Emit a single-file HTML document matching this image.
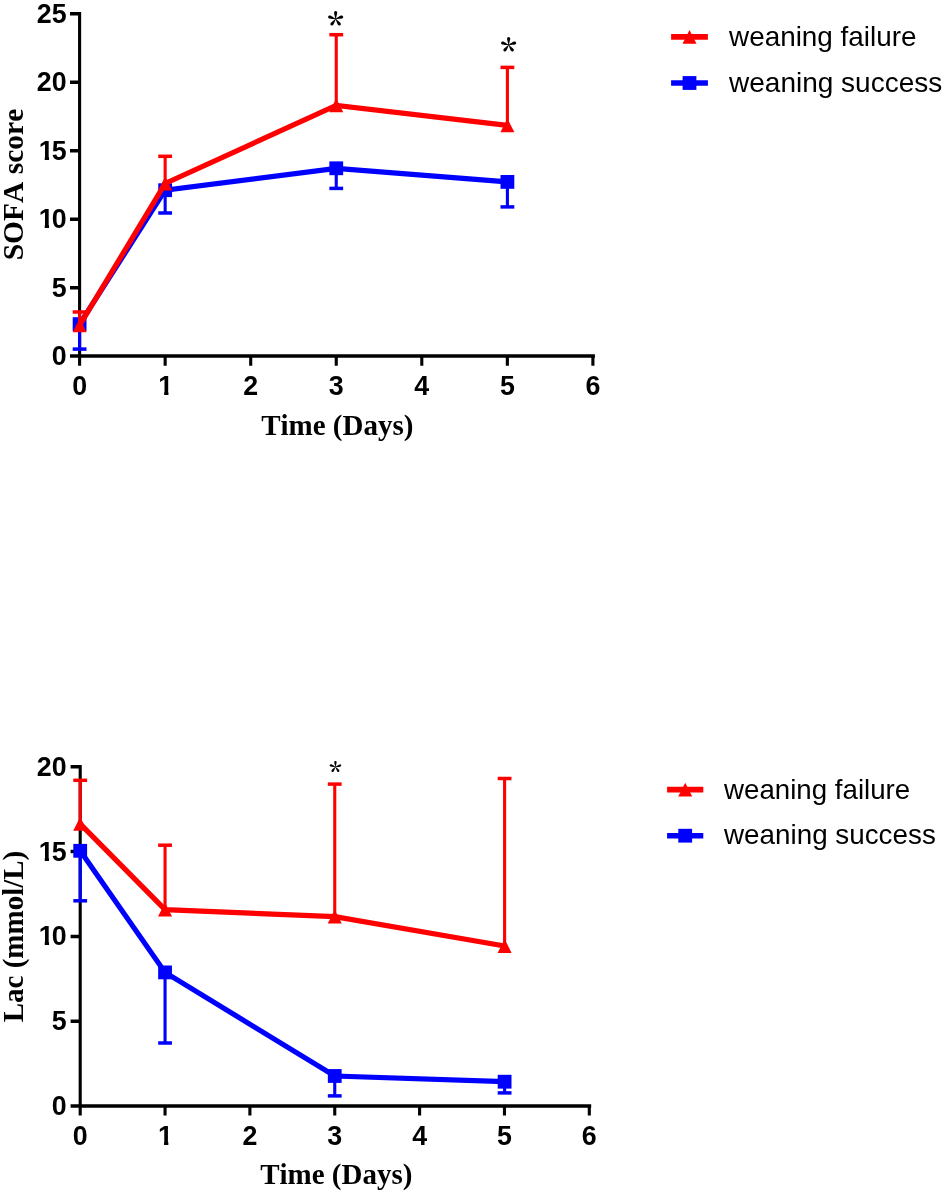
<!DOCTYPE html>
<html><head><meta charset="utf-8"><title>Figure</title>
<style>
html,body{margin:0;padding:0;background:#fff}
svg{display:block}
text{font-kerning:none}
.tk{font-family:"Liberation Sans",Arial,sans-serif;font-weight:bold;font-size:26.8px;fill:#000}
.ti{font-family:"Liberation Serif","Times New Roman",serif;font-weight:bold;font-size:29px;fill:#000}
.st{font-family:"Noto Serif CJK SC","Liberation Serif",serif;font-weight:bold;fill:#000}
.lg{font-family:"Liberation Sans",Arial,sans-serif;fill:#000}
</style></head><body>
<svg width="945" height="1193" viewBox="0 0 945 1193">
<defs><clipPath id="c1" clipPathUnits="userSpaceOnUse"><path d="M-2 -26H18V-3.6H10.25V2H5.95V-3.6H-2Z"/></clipPath></defs>
<rect width="945" height="1193" fill="#fff"/>
<g id="chart-top">
<path d="M70.00 356.10H594.90M70.00 287.65H79.60M70.00 219.20H79.60M70.00 150.75H79.60M70.00 82.30H79.60M70.00 13.85H79.60" stroke="#000" stroke-width="3.5" fill="none"/>
<path d="M79.60 12.10V365.70M165.15 356.10V365.70M250.70 356.10V365.70M336.25 356.10V365.70M421.80 356.10V365.70M507.35 356.10V365.70M592.90 356.10V365.70" stroke="#000" stroke-width="3.1" fill="none"/>
<path d="M79.60 324.10V349.10" stroke="#0000ff" stroke-width="3.1" fill="none"/><path d="M72.70 349.10H86.50" stroke="#0000ff" stroke-width="3.5" fill="none"/>
<path d="M165.15 190.20V213.00" stroke="#0000ff" stroke-width="3.1" fill="none"/><path d="M158.25 213.00H172.05" stroke="#0000ff" stroke-width="3.5" fill="none"/>
<path d="M336.25 168.30V188.40" stroke="#0000ff" stroke-width="3.1" fill="none"/><path d="M329.35 188.40H343.15" stroke="#0000ff" stroke-width="3.5" fill="none"/>
<path d="M507.40 181.90V206.90" stroke="#0000ff" stroke-width="3.1" fill="none"/><path d="M500.50 206.90H514.30" stroke="#0000ff" stroke-width="3.5" fill="none"/>
<polyline points="79.60,324.10 165.15,190.20 336.25,168.30 507.40,181.90" fill="none" stroke="#0000ff" stroke-width="5.2" stroke-linejoin="miter"/>
<rect x="72.70" y="317.20" width="13.8" height="13.8" fill="#0000ff"/>
<rect x="158.25" y="183.30" width="13.8" height="13.8" fill="#0000ff"/>
<rect x="329.35" y="161.40" width="13.8" height="13.8" fill="#0000ff"/>
<rect x="500.50" y="175.00" width="13.8" height="13.8" fill="#0000ff"/>
<path d="M79.60 325.30V312.00" stroke="#ff0000" stroke-width="3.1" fill="none"/><path d="M72.70 312.00H86.50" stroke="#ff0000" stroke-width="3.5" fill="none"/>
<path d="M165.15 183.50V156.30" stroke="#ff0000" stroke-width="3.1" fill="none"/><path d="M158.25 156.30H172.05" stroke="#ff0000" stroke-width="3.5" fill="none"/>
<path d="M336.25 105.40V34.70" stroke="#ff0000" stroke-width="3.1" fill="none"/><path d="M329.35 34.70H343.15" stroke="#ff0000" stroke-width="3.5" fill="none"/>
<path d="M507.40 125.40V67.40" stroke="#ff0000" stroke-width="3.1" fill="none"/><path d="M500.50 67.40H514.30" stroke="#ff0000" stroke-width="3.5" fill="none"/>
<polyline points="79.60,325.30 165.15,183.50 336.25,105.40 507.40,125.40" fill="none" stroke="#ff0000" stroke-width="5.2" stroke-linejoin="miter"/>
<polygon points="72.60,332.20 86.60,332.20 79.60,318.40" fill="#ff0000"/>
<polygon points="158.15,190.40 172.15,190.40 165.15,176.60" fill="#ff0000"/>
<polygon points="329.25,112.30 343.25,112.30 336.25,98.50" fill="#ff0000"/>
<polygon points="500.40,132.30 514.40,132.30 507.40,118.50" fill="#ff0000"/>
<g class="tk" text-anchor="end">
<text x="66.6" y="365.10">0</text>
<text x="66.6" y="296.65">5</text>
<g transform="translate(38.79 228.20)"><text text-anchor="start" clip-path="url(#c1)">1</text></g>
<text x="66.6" y="228.20">0</text>
<g transform="translate(38.79 159.75)"><text text-anchor="start" clip-path="url(#c1)">1</text></g>
<text x="66.6" y="159.75">5</text>
<text x="66.6" y="91.30">20</text>
<text x="66.6" y="22.85">25</text>
</g><g class="tk" text-anchor="middle">
<text x="79.60" y="394.8">0</text>
<g transform="translate(158.20 394.8)"><text text-anchor="start" clip-path="url(#c1)">1</text></g>
<text x="250.70" y="394.8">2</text>
<text x="336.25" y="394.8">3</text>
<text x="421.80" y="394.8">4</text>
<text x="507.35" y="394.8">5</text>
<text x="592.90" y="394.8">6</text>
</g>
<text class="ti" text-anchor="middle" x="337.3" y="434.9">Time (Days)</text>
<text class="ti" text-anchor="middle" style="font-size:29.5px" transform="translate(23.3 184.55) rotate(-90)">SOFA score</text>
<text class="st" text-anchor="middle" font-size="33.5" x="335.5" y="39.35">*</text>
<text class="st" text-anchor="middle" font-size="33.5" x="508.6" y="65.15">*</text>
<path d="M671.1 36.85H707.9" stroke="#ff0000" stroke-width="5.6"/>
<polygon points="682.50,43.85 696.50,43.85 689.50,30.05" fill="#ff0000"/>
<path d="M671.1 83.0H707.9" stroke="#0000ff" stroke-width="5.6"/>
<rect x="682.60" y="76.10" width="13.8" height="13.8" fill="#0000ff"/>
<text class="lg" font-size="27.8" x="729.0" y="45.5" textLength="187.5" lengthAdjust="spacingAndGlyphs">weaning failure</text>
<text class="lg" font-size="27.8" x="729.0" y="91.7" textLength="213.3" lengthAdjust="spacingAndGlyphs">weaning success</text>
</g>
<g id="chart-bottom">
<path d="M70.60 1106.00H591.20M70.60 1021.20H80.20M70.60 936.40H80.20M70.60 851.60H80.20M70.60 766.80H80.20" stroke="#000" stroke-width="3.5" fill="none"/>
<path d="M80.20 765.05V1115.60M165.05 1106.00V1115.60M249.90 1106.00V1115.60M334.75 1106.00V1115.60M419.60 1106.00V1115.60M504.45 1106.00V1115.60M589.30 1106.00V1115.60" stroke="#000" stroke-width="3.1" fill="none"/>
<path d="M80.20 850.80V900.80" stroke="#0000ff" stroke-width="3.1" fill="none"/><path d="M73.30 900.80H87.10" stroke="#0000ff" stroke-width="3.5" fill="none"/>
<path d="M165.05 972.40V1043.00" stroke="#0000ff" stroke-width="3.1" fill="none"/><path d="M158.15 1043.00H171.95" stroke="#0000ff" stroke-width="3.5" fill="none"/>
<path d="M334.75 1076.00V1095.90" stroke="#0000ff" stroke-width="3.1" fill="none"/><path d="M327.85 1095.90H341.65" stroke="#0000ff" stroke-width="3.5" fill="none"/>
<path d="M504.60 1081.70V1092.90" stroke="#0000ff" stroke-width="3.1" fill="none"/><path d="M497.70 1092.90H511.50" stroke="#0000ff" stroke-width="3.5" fill="none"/>
<polyline points="80.20,850.80 165.05,972.40 334.75,1076.00 504.60,1081.70" fill="none" stroke="#0000ff" stroke-width="5.2" stroke-linejoin="miter"/>
<rect x="73.30" y="843.90" width="13.8" height="13.8" fill="#0000ff"/>
<rect x="158.15" y="965.50" width="13.8" height="13.8" fill="#0000ff"/>
<rect x="327.85" y="1069.10" width="13.8" height="13.8" fill="#0000ff"/>
<rect x="497.70" y="1074.80" width="13.8" height="13.8" fill="#0000ff"/>
<path d="M80.20 823.90V780.30" stroke="#ff0000" stroke-width="3.1" fill="none"/><path d="M73.30 780.30H87.10" stroke="#ff0000" stroke-width="3.5" fill="none"/>
<path d="M165.05 909.70V845.20" stroke="#ff0000" stroke-width="3.1" fill="none"/><path d="M158.15 845.20H171.95" stroke="#ff0000" stroke-width="3.5" fill="none"/>
<path d="M334.75 916.70V784.10" stroke="#ff0000" stroke-width="3.1" fill="none"/><path d="M327.85 784.10H341.65" stroke="#ff0000" stroke-width="3.5" fill="none"/>
<path d="M504.60 946.00V778.50" stroke="#ff0000" stroke-width="3.1" fill="none"/><path d="M497.70 778.50H511.50" stroke="#ff0000" stroke-width="3.5" fill="none"/>
<polyline points="80.20,823.90 165.05,909.70 334.75,916.70 504.60,946.00" fill="none" stroke="#ff0000" stroke-width="5.2" stroke-linejoin="miter"/>
<polygon points="73.20,830.80 87.20,830.80 80.20,817.00" fill="#ff0000"/>
<polygon points="158.05,916.60 172.05,916.60 165.05,902.80" fill="#ff0000"/>
<polygon points="327.75,923.60 341.75,923.60 334.75,909.80" fill="#ff0000"/>
<polygon points="497.60,952.90 511.60,952.90 504.60,939.10" fill="#ff0000"/>
<g class="tk" text-anchor="end">
<text x="66.6" y="1115.00">0</text>
<text x="66.6" y="1030.20">5</text>
<g transform="translate(38.79 945.40)"><text text-anchor="start" clip-path="url(#c1)">1</text></g>
<text x="66.6" y="945.40">0</text>
<g transform="translate(38.79 860.60)"><text text-anchor="start" clip-path="url(#c1)">1</text></g>
<text x="66.6" y="860.60">5</text>
<text x="66.6" y="775.80">20</text>
</g><g class="tk" text-anchor="middle">
<text x="80.20" y="1144.6">0</text>
<g transform="translate(158.10 1144.6)"><text text-anchor="start" clip-path="url(#c1)">1</text></g>
<text x="249.90" y="1144.6">2</text>
<text x="334.75" y="1144.6">3</text>
<text x="419.60" y="1144.6">4</text>
<text x="504.45" y="1144.6">5</text>
<text x="589.30" y="1144.6">6</text>
</g>
<text class="ti" text-anchor="middle" x="336.3" y="1183.5">Time (Days)</text>
<text class="ti" text-anchor="middle" style="font-size:29px" transform="translate(22.7 936.5) rotate(-90)">Lac (mmol/L)</text>
<text class="st" text-anchor="middle" font-size="25.5" x="335.4" y="781.84">*</text>
<path d="M667.1 789.6H703.3" stroke="#ff0000" stroke-width="5.6"/>
<polygon points="678.20,796.60 692.20,796.60 685.20,782.80" fill="#ff0000"/>
<path d="M667.1 835.7H703.3" stroke="#0000ff" stroke-width="5.6"/>
<rect x="678.30" y="828.80" width="13.8" height="13.8" fill="#0000ff"/>
<text class="lg" font-size="27.6" x="724.0" y="798.6" textLength="186.2" lengthAdjust="spacingAndGlyphs">weaning failure</text>
<text class="lg" font-size="27.6" x="724.0" y="844.4" textLength="211.8" lengthAdjust="spacingAndGlyphs">weaning success</text>
</g>
</svg>
</body></html>
